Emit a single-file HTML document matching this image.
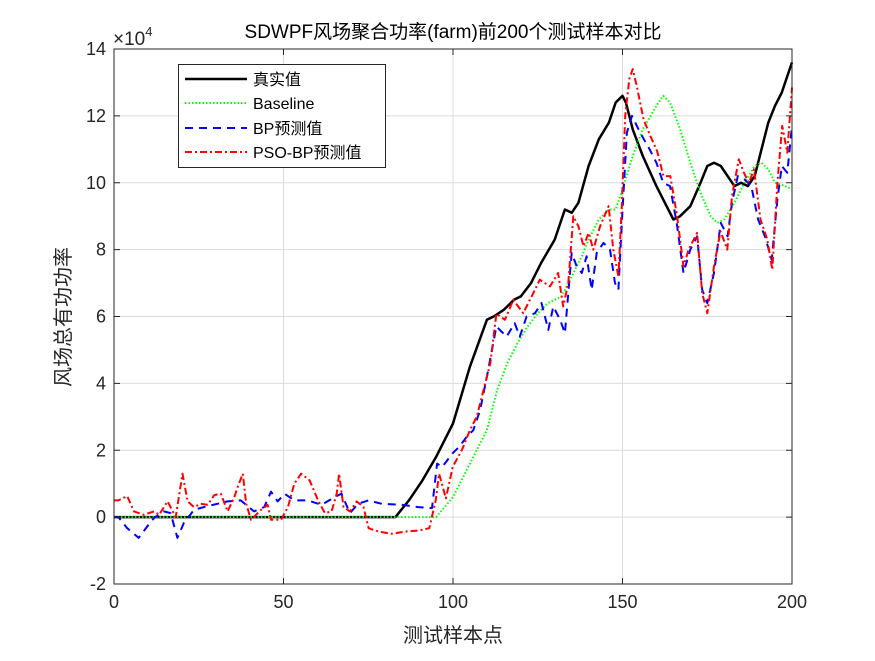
<!DOCTYPE html>
<html><head><meta charset="utf-8"><style>
body{margin:0;background:#fff;}
svg text{font-family:"Liberation Sans","Noto Sans CJK SC",sans-serif;}
</style></head><body>
<svg id="chart" width="875" height="656" viewBox="0 0 875 656">
<rect x="0" y="0" width="875" height="656" fill="#fff"/>
<g id="grid"></g>
<g id="series"></g>
<rect x="114" y="49" width="678" height="535" fill="none" stroke="#262626" stroke-width="1"/>
<g id="ticks"></g>
<text x="113" y="45" font-size="19" fill="#262626">×10<tspan dy="-9" font-size="13">4</tspan></text>
<text x="453" y="38" font-size="19" text-anchor="middle" fill="#000">SDWPF风场聚合功率(farm)前200个测试样本对比</text>
<text x="453" y="642" font-size="20" text-anchor="middle" fill="#262626">测试样本点</text>
<text transform="translate(70,317) rotate(-90)" font-size="20" text-anchor="middle" fill="#262626">风场总有功功率</text>
<g>
<rect x="178.5" y="64.5" width="207" height="103" fill="#fff" stroke="#262626" stroke-width="1"/>
<g><line x1="185" y1="79" x2="247" y2="79" stroke="#000" stroke-width="2.5"/><text x="253" y="85" font-size="16">真实值</text></g>
<g><line x1="185" y1="103" x2="247" y2="103" stroke="#00ff00" stroke-width="2" stroke-dasharray="1.5,2"/><text x="253" y="109" font-size="16">Baseline</text></g>
<g><line x1="185" y1="128" x2="247" y2="128" stroke="#0000ff" stroke-width="2" stroke-dasharray="8,6"/><text x="253" y="134" font-size="16">BP预测值</text></g>
<g><line x1="185" y1="152" x2="247" y2="152" stroke="#ff0000" stroke-width="2" stroke-dasharray="7,3,2,3"/><text x="253" y="158" font-size="16">PSO-BP预测值</text></g>
</g>
</svg>
<script>
const xTicks=[0,50,100,150,200];
const yTicks=[-2,0,2,4,6,8,10,12,14];
const trueX=[0,83,87,91,95,100,105,110,112,115,118,120,123,126,130,133,135,137,140,143,146,148,150,151,153,156,160,163,165,167,170,173,175,177,179,181,183,185,187,189,191,193,195,197,199,200];
const trueY=[0,0,0.5,1.1,1.8,2.8,4.5,5.9,6.0,6.2,6.5,6.6,7.0,7.6,8.3,9.2,9.1,9.4,10.5,11.3,11.8,12.4,12.6,12.4,11.6,10.8,9.9,9.3,8.9,9.0,9.3,10.0,10.5,10.6,10.5,10.2,9.9,10.0,9.9,10.2,11.0,11.8,12.3,12.7,13.3,13.6];
const baseX=[0,95,100,105,110,113,116,119,122,125,128,132,135,138,140,143,146,148,150,153,156,160,162,164,167,170,173,176,178,180,183,186,189,191,193,195,198,200];
const baseY=[0,0,0.6,1.6,2.6,3.8,4.6,5.2,5.7,6.1,6.4,6.6,7.2,7.8,8.3,8.9,9.2,9.2,9.8,10.8,11.6,12.3,12.6,12.4,11.6,10.6,9.7,9.0,8.8,8.9,9.4,10.0,10.5,10.6,10.4,10.0,9.9,9.8];
const bpX=[0,1.3,3.9,7.3,9.8,11.8,14.7,16.7,18.7,20.6,23.6,26.5,30.5,33.5,37.4,41.3,44.3,46.3,48.3,50.3,53.2,57.2,61.2,65.1,67.1,69.6,72,75,79,84.9,89.8,93.8,95.3,96.8,99.8,101.8,104,106,108,110,112.8,115.8,118.2,119.7,121.7,124.2,126.1,128.1,129.6,131.6,133,135,136.5,138,139.4,140.9,142.4,144.4,146.3,147.8,148.8,149.8,151.3,152.8,155.2,158,160,162,164,166,168,170,172,173.5,175,177,179,181,182.3,184,186,188,190,192,194,195.7,197,198.6,200];
const bpY=[0,0,-0.33,-0.62,-0.28,-0.03,0.17,0.12,-0.62,-0.18,0.22,0.3,0.4,0.47,0.5,0.17,0.3,0.76,0.47,0.7,0.5,0.5,0.37,0.6,0.7,0.12,0.4,0.5,0.4,0.37,0.3,0.27,1.6,1.5,1.9,2.1,2.4,2.6,3.2,4.2,5.7,5.4,5.8,5.4,6.0,6.1,6.4,5.6,6.3,5.9,5.5,7.9,7.5,7.3,7.8,6.8,7.9,8.2,8.0,7.0,6.8,8.8,11.5,12.0,11.5,11.0,10.6,10.0,9.9,8.8,7.3,8.0,8.4,6.8,6.4,7.3,8.8,8.4,9.4,10.2,10.1,9.9,8.9,8.4,7.7,9.5,10.5,10.3,11.7];
const psoX=[0,1.3,3.9,5.9,8.8,11.8,13.3,15.8,18.2,20.2,21.7,23.6,25.6,27.6,29.6,31.5,33.5,35.5,36.5,38,39,40.4,43.4,45.3,46.3,49.3,51.3,53.2,55.2,57.7,60.2,62.2,64.2,65.7,66.4,67.7,69.6,71.6,73.6,75.1,78,82,86,90,93,94.9,95.9,97.9,99.9,102.8,105,107,109,111,112.8,115.3,117.8,120.7,123.7,125.6,128.6,131,132.5,134,135.5,137,138.5,140,141.4,143.4,145.9,147.3,148.8,149.8,150.8,152,153,154.2,156.2,158.2,160.2,162.1,164.1,166.1,168,169.5,172,173.5,175,177,178.9,180.9,182.3,184.3,185.8,187.3,188.8,190.7,192.7,194.2,195.7,197.1,198.6,200];
const psoY=[0.5,0.5,0.63,0.17,0.07,0.17,0.07,0.47,0,1.3,0.47,0.3,0.4,0.37,0.66,0.7,0.17,0.6,0.9,1.3,0.4,-0.08,0.22,0.37,-0.08,-0.08,0.3,1.0,1.3,1.1,0.5,0.12,0.17,0.7,1.3,0.3,0.17,0.47,0.3,-0.33,-0.43,-0.5,-0.43,-0.4,-0.33,0.5,1.3,0.56,1.5,2.05,2.6,3.0,3.8,4.6,6.08,5.9,6.5,6.1,6.7,7.1,6.9,7.3,6.3,7.0,9.0,8.7,8.1,8.5,8.0,8.7,9.3,8.0,7.2,9.3,12.0,13.1,13.4,12.9,11.9,11.4,10.95,10.2,10.2,9.0,7.5,8.0,8.5,6.7,6.1,7.5,8.55,8.0,9.6,10.7,10.3,10.0,10.4,8.9,8.3,7.4,10.0,11.7,10.9,12.85];

const X0=114,X1=792,Y0=584,Y1=49;
function sx(v){return X0+(v-0)/(200-0)*(X1-X0);}
function sy(v){return Y0-(v-(-2))/(14-(-2))*(Y0-Y1);}
const NS='http://www.w3.org/2000/svg';
const grid=document.getElementById('grid'),ticks=document.getElementById('ticks'),ser=document.getElementById('series');
function mk(tag,attrs,parent){const e=document.createElementNS(NS,tag);for(const k in attrs)e.setAttribute(k,attrs[k]);parent.appendChild(e);return e;}
xTicks.forEach(t=>{
  const x=sx(t);
  const g=mk('line',{x1:x,y1:Y1,x2:x,y2:Y0,stroke:'#dcdcdc','stroke-width':1},grid);
  
  
  mk('line',{x1:x,y1:Y0,x2:x,y2:Y0-6,stroke:'#262626'},ticks);
  mk('line',{x1:x,y1:Y1,x2:x,y2:Y1+6,stroke:'#262626'},ticks);
  const tx=mk('text',{x:x,y:Y0+24,'font-size':18,'text-anchor':'middle',fill:'#262626'},ticks);
  tx.textContent=t;
  
  
});
yTicks.forEach(t=>{
  const y=sy(t);
  const g=mk('line',{x1:X0,y1:y,x2:X1,y2:y,stroke:'#dcdcdc','stroke-width':1},grid);
  
  
  mk('line',{x1:X0,y1:y,x2:X0+6,y2:y,stroke:'#262626'},ticks);
  mk('line',{x1:X1,y1:y,x2:X1-6,y2:y,stroke:'#262626'},ticks);
  const tx=mk('text',{x:X0-8,y:y+6,'font-size':18,'text-anchor':'end',fill:'#262626'},ticks);
  tx.textContent=t;
  
  
});
function line(xs,ys,color,w,dash,name){
  const d=xs.map((x,i)=>(i?'L':'M')+sx(x).toFixed(1)+','+sy(ys[i]).toFixed(1)).join('');
  const p=mk('path',{d:d,fill:'none',stroke:color,'stroke-width':w,'stroke-dasharray':dash,'stroke-linejoin':'round'},ser);
  
  
}
line(trueX,trueY,'#000',2.5,'none','series-true');
line(baseX,baseY,'#00ff00',2,'1.5,2','series-baseline');
line(bpX,bpY,'#0000ff',2,'8,6','series-bp');
line(psoX,psoY,'#ff0000',2,'7,3,2,3','series-pso-bp');
</script>
</body></html>
